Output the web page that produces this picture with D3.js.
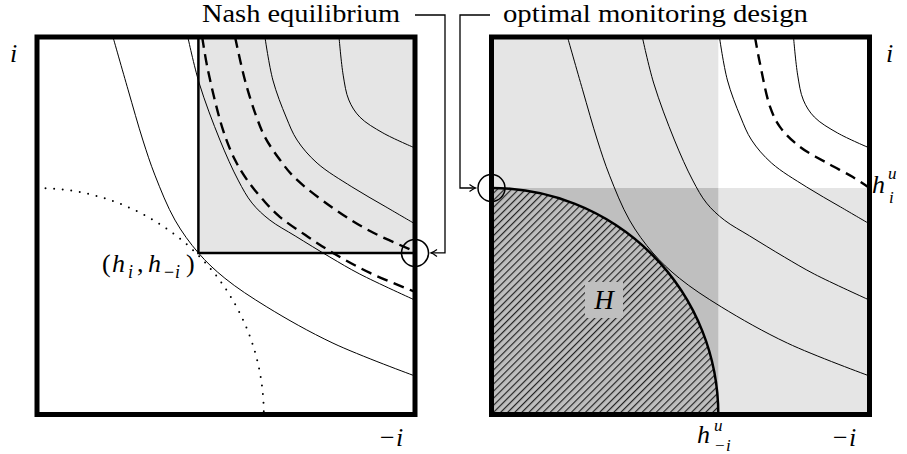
<!DOCTYPE html>
<html>
<head>
<meta charset="utf-8">
<script src="https://cdn.jsdelivr.net/npm/d3@7"></script>
<style>
  body { margin: 0; background: #fff; }
</style>
</head>
<body>
<svg width="907" height="454" font-family="'Liberation Serif', 'DejaVu Serif', serif"></svg>
<script>
// indifference curves, in box units (x = -i, y = i)
const curveA = [[0.201,1.0],[0.241,0.860],[0.280,0.727],[0.312,0.634],[0.365,0.515],[0.427,0.428],[0.497,0.361],[0.608,0.285],[0.783,0.189],[1.0,0.102]];
const curveB = [[0.399,1.0],[0.429,0.878],[0.484,0.727],[0.532,0.621],[0.569,0.560],[0.616,0.515],[0.683,0.473],[0.775,0.417],[0.854,0.372],[1.0,0.303]];
const curveC = [[0.603,1.0],[0.624,0.886],[0.659,0.788],[0.688,0.727],[0.741,0.666],[0.833,0.603],[0.923,0.550],[1.0,0.505]];
const curveD = [[0.799,1.0],[0.810,0.899],[0.825,0.833],[0.854,0.788],[0.915,0.746],[1.0,0.706]];
// dashed ones
const dashE = [[0.437,1.0],[0.452,0.913],[0.492,0.754],[0.524,0.674],[0.556,0.621],[0.603,0.563],[0.643,0.523],[0.709,0.476],[0.783,0.428],[0.881,0.375],[1.0,0.325]];
const dashF = [[0.524,1.0],[0.550,0.886],[0.579,0.793],[0.603,0.735],[0.643,0.674],[0.683,0.626],[0.783,0.547],[0.881,0.486],[1.0,0.432]];
const dashG = [[0.697,1.0],[0.710,0.931],[0.737,0.815],[0.763,0.762],[0.816,0.709],[0.888,0.666],[0.956,0.629],[1.0,0.600]];

const leftSolid = [curveA, curveB, curveC, curveD];
const leftDashed = [dashE, dashF];
const rightSolid = [curveA, curveB, curveC, curveD];
const rightDashed = [dashG];

const hRadius = 0.6;          // boundary of H (h^u)
const corner = [0.427, 0.428]; // (h_i, h_-i)
const nashPt = [1.0, 0.428];
const optPt = [0.0, 0.6];

const svg = d3.select("svg");
const defs = svg.append("defs");

let pat = defs.append("pattern").attr("id", "hatch")
  .attr("patternUnits", "userSpaceOnUse").attr("width", 5).attr("height", 5)
  .attr("patternTransform", "rotate(45)");
pat.append("line").attr("x1", 0.6).attr("y1", 0).attr("x2", 0.6).attr("y2", 5)
  .attr("stroke", "#1a1a1a").attr("stroke-width", 1.1);

defs.append("marker").attr("id", "arr")
  .attr("viewBox", "-8 -5 10 10").attr("refX", 0).attr("refY", 0)
  .attr("markerWidth", 10).attr("markerHeight", 10)
  .attr("markerUnits", "userSpaceOnUse").attr("orient", "auto")
  .append("path").attr("d", "M-6,-3.5 Q-2,-0.6 0,0 Q-2,0.6 -6,3.5")
  .attr("fill", "none").attr("stroke", "#000").attr("stroke-width", 1.2);

function makePanel(id, x0) {
  let x = d3.scaleLinear().domain([0, 1]).range([x0, x0 + 378]);
  let y = d3.scaleLinear().domain([0, 1]).range([414.5, 37]);
  defs.append("clipPath").attr("id", "clip-" + id)
    .append("rect").attr("x", x(0)).attr("y", y(1))
    .attr("width", x(1) - x(0)).attr("height", y(0) - y(1));
  let g = svg.append("g").attr("id", id);
  let line = d3.line().x(d => x(d[0])).y(d => y(d[1])).curve(d3.curveCatmullRom.alpha(0.5));
  return {x, y, g, line, clip: "url(#clip-" + id + ")"};
}

function arcPath(p, r) {
  return `M${p.x(0)},${p.y(r)} A${p.x(r) - p.x(0)},${p.y(0) - p.y(r)} 0 0 1 ${p.x(r)},${p.y(0)}`;
}

function drawCurves(p, solid, dashed) {
  let cg = p.g.append("g").attr("clip-path", p.clip);
  cg.selectAll("path.solid").data(solid).join("path").attr("class", "solid")
    .attr("d", p.line).attr("fill", "none").attr("stroke", "#000").attr("stroke-width", 1);
  cg.selectAll("path.dash").data(dashed).join("path").attr("class", "dash")
    .attr("d", p.line).attr("fill", "none").attr("stroke", "#000")
    .attr("stroke-width", 2.4).attr("stroke-dasharray", "11,6.5");
}

function frame(p) {
  p.g.append("rect").attr("x", p.x(0)).attr("y", p.y(1))
    .attr("width", p.x(1) - p.x(0)).attr("height", p.y(0) - p.y(1))
    .attr("fill", "none").attr("stroke", "#000").attr("stroke-width", 5);
}

// ---------- left panel: Nash equilibrium ----------
let L = makePanel("left", 37);
L.g.append("rect").attr("x", L.x(corner[0])).attr("y", L.y(1))
  .attr("width", L.x(1) - L.x(corner[0])).attr("height", L.y(corner[1]) - L.y(1))
  .attr("fill", "#e5e5e5");
drawCurves(L, leftSolid, leftDashed);
L.g.append("path")
  .attr("d", `M${L.x(corner[0])},${L.y(1)} V${L.y(corner[1])} H${L.x(1)}`)
  .attr("fill", "none").attr("stroke", "#000").attr("stroke-width", 2.5);
L.g.append("path").attr("d", arcPath(L, hRadius)).attr("clip-path", L.clip)
  .attr("fill", "none").attr("stroke", "#000").attr("stroke-width", 2)
  .attr("stroke-linecap", "round").attr("stroke-dasharray", "0,8.6");
frame(L);
L.g.append("circle").attr("cx", L.x(nashPt[0])).attr("cy", L.y(nashPt[1])).attr("r", 13.5)
  .attr("fill", "none").attr("stroke", "#000").attr("stroke-width", 1.5);

// ---------- right panel: optimal monitoring ----------
let R = makePanel("right", 491.5);
R.g.append("rect").attr("x", R.x(0)).attr("y", R.y(1))
  .attr("width", R.x(1) - R.x(0)).attr("height", R.y(0) - R.y(1)).attr("fill", "#e5e5e5");
R.g.append("rect").attr("x", R.x(hRadius)).attr("y", R.y(1))
  .attr("width", R.x(1) - R.x(hRadius)).attr("height", R.y(hRadius) - R.y(1)).attr("fill", "#fff");
R.g.append("rect").attr("x", R.x(0)).attr("y", R.y(hRadius))
  .attr("width", R.x(hRadius) - R.x(0)).attr("height", R.y(0) - R.y(hRadius)).attr("fill", "#bfbfbf");

let regionH = `M${R.x(0)},${R.y(0)} L` + arcPath(R, hRadius).slice(1) + " Z";
R.g.append("path").attr("d", regionH).attr("fill", "#bfbfbf");
R.g.append("path").attr("d", regionH).attr("fill", "url(#hatch)");
drawCurves(R, rightSolid, rightDashed);
R.g.append("path").attr("d", arcPath(R, hRadius))
  .attr("fill", "none").attr("stroke", "#000").attr("stroke-width", 2.5);
R.g.append("rect").attr("x", 585).attr("y", 282).attr("width", 38).attr("height", 36).attr("fill", "#bfbfbf");
R.g.append("text").attr("x", 604).attr("y", 309).attr("text-anchor", "middle")
  .attr("font-size", 27).attr("font-style", "italic").text("H");
frame(R);
R.g.append("circle").attr("cx", R.x(optPt[0])).attr("cy", R.y(optPt[1])).attr("r", 13.5)
  .attr("fill", "none").attr("stroke", "#000").attr("stroke-width", 1.5);

// ---------- connectors and labels ----------
svg.append("path").attr("d", `M415,15 H445 V${L.y(nashPt[1])} H${L.x(nashPt[0]) + 16}`)
  .attr("fill", "none").attr("stroke", "#000").attr("stroke-width", 1.3).attr("marker-end", "url(#arr)");
svg.append("path").attr("d", `M490,15 H460 V${R.y(optPt[1])} H${R.x(optPt[0]) - 16}`)
  .attr("fill", "none").attr("stroke", "#000").attr("stroke-width", 1.3).attr("marker-end", "url(#arr)");

svg.append("text").attr("x", 202).attr("y", 22)
  .attr("font-size", 25).attr("textLength", 198).attr("lengthAdjust", "spacingAndGlyphs")
  .text("Nash equilibrium");
svg.append("text").attr("x", 503).attr("y", 22)
  .attr("font-size", 25).attr("textLength", 305).attr("lengthAdjust", "spacingAndGlyphs")
  .text("optimal monitoring design");

function it(x, y, s, size) {
  return svg.append("text").attr("x", x).attr("y", y).attr("font-size", size || 26)
    .attr("font-style", "italic").text(s);
}
it(10, 62, "i");
it(886, 62, "i");

function minusI(x, y, size, gap) {
  let t = svg.append("text").attr("x", x).attr("y", y).attr("font-size", size);
  t.append("tspan").text("\u2212");
  t.append("tspan").attr("x", x + gap).attr("font-style", "italic").text("i");
}
minusI(380, 446, 26, 16);
minusI(833, 446, 26, 16);

// h^u_{-i}
it(697, 443, "h");
it(714, 431, "u", 17);
minusI(715, 451, 17, 11);
// h^u_i
it(872, 193, "h");
it(888, 179, "u", 17);
it(889, 203, "i", 17);

// (h_i, h_{-i})
let t = svg.append("text").attr("y", 272).attr("font-size", 26);
t.append("tspan").attr("x", 102).text("(");
t.append("tspan").attr("x", 112).attr("font-style", "italic").text("h");
t.append("tspan").attr("x", 128).attr("font-style", "italic").attr("font-size", 18).attr("dy", 6).text("i");
t.append("tspan").attr("x", 137).attr("dy", -6).text(",");
t.append("tspan").attr("x", 148).attr("font-style", "italic").text("h");
t.append("tspan").attr("x", 164).attr("font-size", 18).attr("dy", 6).text("\u2212");
t.append("tspan").attr("x", 175).attr("font-style", "italic").attr("font-size", 18).text("i");
t.append("tspan").attr("x", 186).attr("dy", -6).text(")");
</script>
</body>
</html>
